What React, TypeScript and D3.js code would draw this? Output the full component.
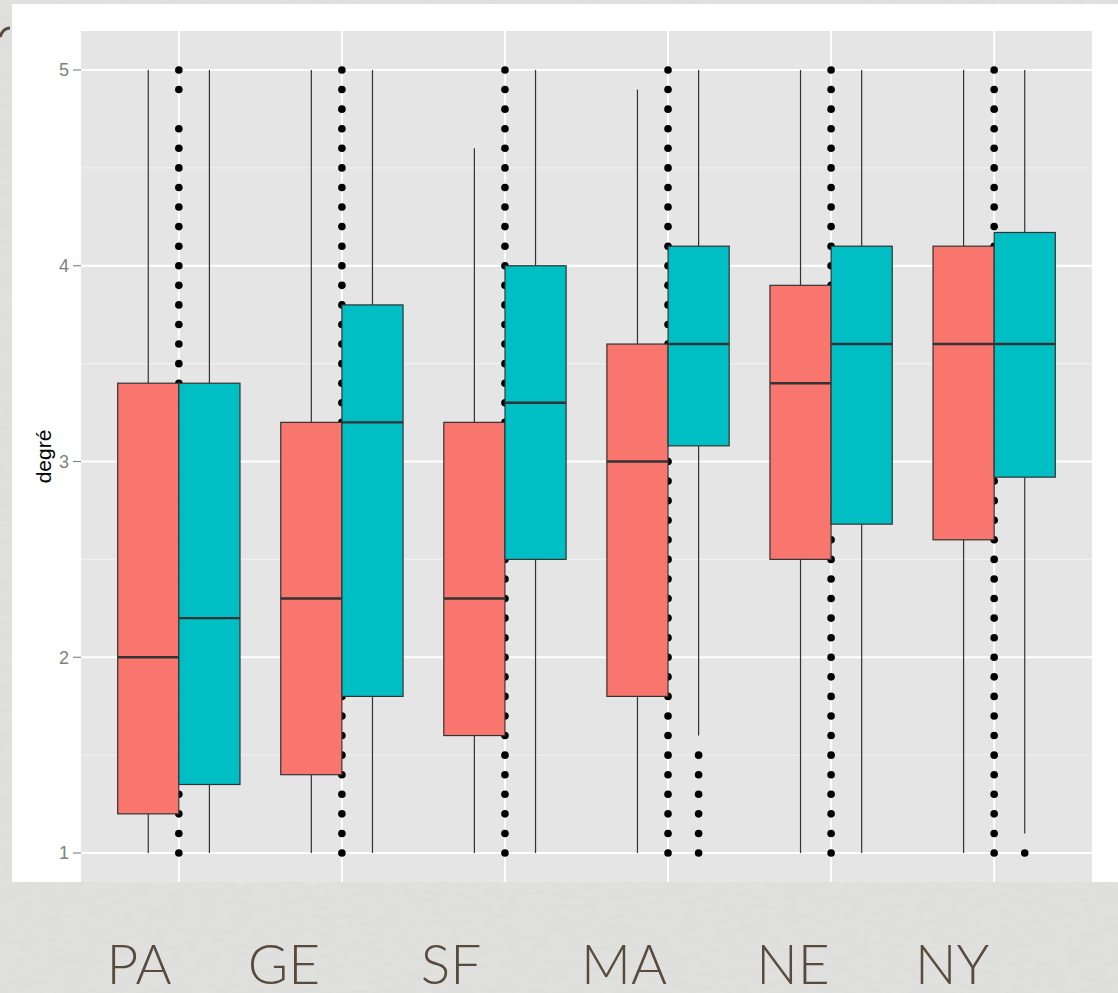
import React from "react";
import * as d3 from "d3";

// ---- data ----
const categories = ["PA", "GE", "SF", "MA", "NE", "NY"];
const groups = ["red", "teal"];

// box stats per category: [lowerWhisker, q1, median, q3, upperWhisker]
const redStats = [
  [1.0, 1.2, 2.0, 3.4, 5.0],
  [1.0, 1.4, 2.3, 3.2, 5.0],
  [1.0, 1.6, 2.3, 3.2, 4.6],
  [1.0, 1.8, 3.0, 3.6, 4.9],
  [1.0, 2.5, 3.4, 3.9, 5.0],
  [1.0, 2.6, 3.6, 4.1, 5.0],
];
const tealStats = [
  [1.0, 1.35, 2.2, 3.4, 5.0],
  [1.0, 1.8, 3.2, 3.8, 5.0],
  [1.0, 2.5, 3.3, 4.0, 5.0],
  [1.6, 3.08, 3.6, 4.1, 5.0],
  [1.0, 2.68, 3.6, 4.1, 5.0],
  [1.1, 2.92, 3.6, 4.17, 5.0],
];
// teal outliers per category
const tealOutliers = [[], [], [], [1.5, 1.4, 1.3, 1.2, 1.1, 1.0], [], [1.0]];

// raw response values shown as points at each category centre
const fullLevels = [
  1.0, 1.1, 1.2, 1.3, 1.4, 1.5, 1.6, 1.7, 1.8, 1.9, 2.0, 2.1, 2.2, 2.3, 2.4, 2.5, 2.6, 2.7, 2.8, 2.9, 3.0,
  3.1, 3.2, 3.3, 3.4, 3.5, 3.6, 3.7, 3.8, 3.9, 4.0, 4.1, 4.2, 4.3, 4.4, 4.5, 4.6, 4.7, 4.8, 4.9, 5.0,
];
const paLevels = [
  1.0, 1.1, 1.2, 1.3, 1.4, 1.5, 1.6, 1.7, 1.8, 1.9, 2.0, 2.1, 2.2, 2.3, 2.4, 2.5, 2.6, 2.7, 2.8, 2.9, 3.0,
  3.1, 3.2, 3.3, 3.4, 3.5, 3.6, 3.7, 3.8, 3.9, 4.0, 4.1, 4.2, 4.3, 4.4, 4.5, 4.6, 4.7, 4.9, 5.0,
];
const centerPoints = [paLevels, fullLevels, fullLevels, fullLevels, fullLevels, fullLevels];

const yTicks = [1, 2, 3, 4, 5];
const yMinor = [1.5, 2.5, 3.5, 4.5];
const yLabel = "degré";

// ---- layout ----
const W = 1118;
const H = 993;
const panel = { left: 81, right: 1092, top: 31, bottom: 882 };
const card = { left: 12, top: 4, right: 1118, bottom: 882 };
const labelCentres = [139, 284, 451, 624, 793, 952];
const colors = { red: "#F8766D", teal: "#00BFC4" };

export default function App() {
  const x = d3.scaleLinear().domain([0.4, 6.6]).range([panel.left, panel.right]);
  const y = d3.scaleLinear().domain([1, 5]).range([853, 70]);
  const half = 0.375;
  const boxStroke = "#333333";

  const statsFor = (g: string) => (g === "red" ? redStats : tealStats);

  return (
    <svg width={W} height={H} style={{ display: "block", position: "absolute", left: 0, top: 0 }}>
      <defs>
        <filter id="tex" x="0" y="0" width="100%" height="100%">
          <feTurbulence type="fractalNoise" baseFrequency="0.06 0.2" numOctaves="3" seed="4" result="n" />
          <feColorMatrix
            type="matrix"
            values="0 0 0 0 0.5  0 0 0 0 0.5  0 0 0 0 0.5  0 0 0 0.14 0"
            result="c"
          />
          <feComposite in="c" in2="SourceGraphic" operator="in" />
        </filter>
        <clipPath id="pclip">
          <rect x={panel.left} y={panel.top} width={panel.right - panel.left} height={panel.bottom - panel.top} />
        </clipPath>
      </defs>
      {/* textured page background */}
      <rect x={0} y={0} width={W} height={H} fill="#e2e2e0" />
      <rect x={0} y={0} width={W} height={H} fill="#e2e2e0" filter="url(#tex)" />
      {/* brown fragment top-left */}
      <path d="M0,37 C2,31 6,28 10,28" fill="none" stroke="#5a4b3d" strokeWidth={3} />
      {/* white card */}
      <rect x={card.left} y={card.top} width={card.right - card.left} height={card.bottom - card.top} fill="#ffffff" />
      {/* panel */}
      <rect x={panel.left} y={panel.top} width={panel.right - panel.left} height={panel.bottom - panel.top} fill="#E5E5E5" />
      <g clipPath="url(#pclip)">
        {yMinor.map((v) => (
          <line key={"mn" + v} x1={panel.left} x2={panel.right} y1={y(v)} y2={y(v)} stroke="#F2F2F2" strokeWidth={1} />
        ))}
        {yTicks.map((v) => (
          <line key={"mj" + v} x1={panel.left} x2={panel.right} y1={y(v)} y2={y(v)} stroke="#ffffff" strokeWidth={2} />
        ))}
        {categories.map((c, i) => (
          <line key={"vx" + c} x1={x(i + 1)} x2={x(i + 1)} y1={panel.top} y2={panel.bottom} stroke="#ffffff" strokeWidth={2} />
        ))}
        {/* centre points */}
        {centerPoints.map((arr, i) =>
          arr.map((v) => <circle key={"cp" + i + "-" + v} cx={x(i + 1)} cy={y(v)} r={3.8} fill="#000" />)
        )}
        {/* boxplots */}
        {groups.map((g, gi) =>
          statsFor(g).map((s, i) => {
            const x0 = x(i + 1 + (gi === 0 ? -half : 0));
            const x1 = x(i + 1 + (gi === 0 ? 0 : half));
            const xm = (x0 + x1) / 2;
            const [lo, q1, med, q3, hi] = s;
            return (
              <g key={g + i}>
                <line x1={xm} x2={xm} y1={y(q3)} y2={y(hi)} stroke={boxStroke} strokeWidth={1.2} />
                <line x1={xm} x2={xm} y1={y(q1)} y2={y(lo)} stroke={boxStroke} strokeWidth={1.2} />
                <rect
                  x={x0}
                  y={y(q3)}
                  width={x1 - x0}
                  height={y(q1) - y(q3)}
                  fill={colors[g as "red" | "teal"]}
                  stroke={boxStroke}
                  strokeWidth={1.2}
                />
                <line x1={x0} x2={x1} y1={y(med)} y2={y(med)} stroke={boxStroke} strokeWidth={2.4} />
              </g>
            );
          })
        )}
        {tealOutliers.map((arr, i) =>
          arr.map((v) => (
            <circle key={"to" + i + "-" + v} cx={x(i + 1 + half / 2)} cy={y(v)} r={3.8} fill="#000" />
          ))
        )}
      </g>
      {/* y axis */}
      {yTicks.map((v) => (
        <g key={"yt" + v}>
          <line x1={73} x2={panel.left} y1={y(v)} y2={y(v)} stroke="#7f7f7f" strokeWidth={1.1} />
          <text
            x={69}
            y={y(v)}
            dy="0.35em"
            textAnchor="end"
            fontFamily="'Liberation Sans', Arial, sans-serif"
            fontSize={18}
            fill="#7f7f7f"
          >
            {v}
          </text>
        </g>
      ))}
      <text
        transform={`translate(51,${y(3) - 5}) rotate(-90)`}
        textAnchor="middle"
        fontFamily="'Liberation Sans', Arial, sans-serif"
        fontSize={21}
        fill="#000"
      >
        {yLabel}
      </text>
      {/* big category labels */}
      {categories.map((c, i) => (
        <text
          key={"lab" + c}
          x={labelCentres[i]}
          y={984}
          textAnchor="middle"
          fontFamily="Lato, 'Open Sans', sans-serif"
          fontWeight={300}
          fontSize={55}
          fill="#584b3e"
        >
          {c}
        </text>
      ))}
    </svg>
  );
}
